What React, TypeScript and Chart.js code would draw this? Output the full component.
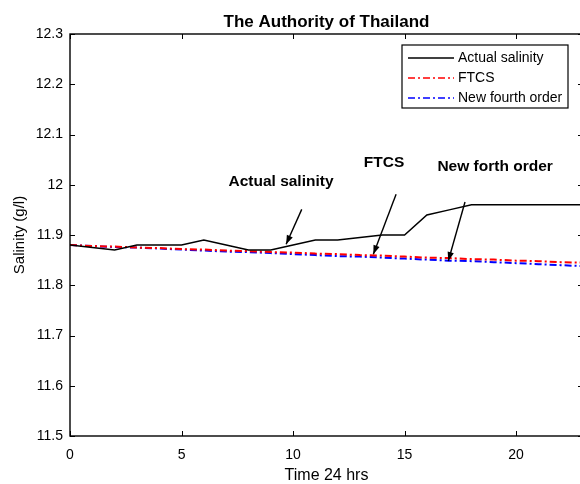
import React, { useEffect, useRef } from "react";
import { Chart, registerables } from "chart.js";

Chart.register(...registerables);

const hours = [0, 1, 2, 3, 4, 5, 6, 7, 8, 9, 10, 11, 12, 13, 14, 15, 16, 17, 18, 19, 20, 21, 22, 23];
const actualSalinity = [11.88, 11.875, 11.87, 11.88, 11.88, 11.88, 11.89, 11.88, 11.87, 11.87, 11.88, 11.89, 11.89, 11.895, 11.9, 11.9, 11.94, 11.95, 11.96, 11.96, 11.96, 11.96, 11.96, 11.96];
const ftcs = [11.88, 11.878, 11.877, 11.875, 11.874, 11.872, 11.871, 11.869, 11.868, 11.866, 11.865, 11.863, 11.862, 11.86, 11.859, 11.857, 11.855, 11.854, 11.852, 11.851, 11.849, 11.848, 11.846, 11.845];
const newFourthOrder = [11.88, 11.878, 11.876, 11.875, 11.873, 11.871, 11.869, 11.867, 11.866, 11.864, 11.862, 11.86, 11.858, 11.857, 11.855, 11.853, 11.851, 11.849, 11.848, 11.846, 11.844, 11.842, 11.84, 11.838];
const seriesNames = ["Actual salinity", "FTCS", "New fourth order"];
const xTickValues = [0, 5, 10, 15, 20];
const yTickValues = [11.5, 11.6, 11.7, 11.8, 11.9, 12.0, 12.1, 12.2, 12.3];
const chartTitle = "The Authority of Thailand";
const xTitle = "Time 24 hrs";
const yTitle = "Salinity (g/l)";

// annotation labels and arrows, in data coordinates (hours, g/l)
const annotations = [
  { text: "Actual salinity", x: 9.46, y: 12.007, from: [10.39, 11.951], to: [9.69, 11.8815] },
  { text: "FTCS", x: 14.08, y: 12.043, from: [14.62, 11.981], to: [13.6, 11.8616] },
  { text: "New forth order", x: 19.06, y: 12.035, from: [17.71, 11.9656], to: [16.96, 11.8483] },
];

const FONT = "'Liberation Sans', Arial, Helvetica, sans-serif";
const DASHDOT = [7, 3, 2, 3];

const framePlugin = {
  id: "matlabFrame",
  afterDraw(chart: any) {
    const { ctx, chartArea } = chart;
    const { left, right, top, bottom } = chartArea;
    const xs = chart.scales.x;
    const ys = chart.scales.y;
    ctx.save();
    // frame
    ctx.strokeStyle = "#000";
    ctx.lineWidth = 1.4;
    ctx.setLineDash([]);
    ctx.strokeRect(left, top, right - left, bottom - top);
    // inside ticks
    ctx.lineWidth = 1;
    ctx.beginPath();
    xTickValues.forEach((v) => {
      const px = Math.round(xs.getPixelForValue(v)) + 0.5;
      ctx.moveTo(px, bottom);
      ctx.lineTo(px, bottom - 5);
      ctx.moveTo(px, top);
      ctx.lineTo(px, top + 5);
    });
    yTickValues.forEach((v) => {
      const py = Math.round(ys.getPixelForValue(v)) + 0.5;
      ctx.moveTo(left, py);
      ctx.lineTo(left + 5, py);
      ctx.moveTo(right, py);
      ctx.lineTo(right - 5, py);
    });
    ctx.stroke();

    // title
    ctx.fillStyle = "#000";
    ctx.font = `bold 17px ${FONT}`;
    ctx.textAlign = "center";
    ctx.textBaseline = "middle";
    ctx.fillText(chartTitle, (left + right) / 2, top - 12);

    // annotations
    ctx.font = `bold 15.5px ${FONT}`;
    annotations.forEach((a) => {
      ctx.fillText(a.text, xs.getPixelForValue(a.x), ys.getPixelForValue(a.y));
      const x1 = xs.getPixelForValue(a.from[0]);
      const y1 = ys.getPixelForValue(a.from[1]);
      const x2 = xs.getPixelForValue(a.to[0]);
      const y2 = ys.getPixelForValue(a.to[1]);
      ctx.lineWidth = 1.4;
      ctx.beginPath();
      ctx.moveTo(x1, y1);
      ctx.lineTo(x2, y2);
      ctx.stroke();
      const ang = Math.atan2(y2 - y1, x2 - x1);
      const L = 9;
      const W = 3.2;
      ctx.beginPath();
      ctx.moveTo(x2, y2);
      ctx.lineTo(x2 - L * Math.cos(ang) + W * Math.sin(ang), y2 - L * Math.sin(ang) - W * Math.cos(ang));
      ctx.lineTo(x2 - L * Math.cos(ang) - W * Math.sin(ang), y2 - L * Math.sin(ang) + W * Math.cos(ang));
      ctx.closePath();
      ctx.fill();
    });

    // legend
    const boxRight = right - 15;
    const boxLeft = boxRight - 166;
    const boxTop = top + 11;
    const boxH = 63;
    ctx.fillStyle = "#fff";
    ctx.fillRect(boxLeft, boxTop, boxRight - boxLeft, boxH);
    ctx.strokeStyle = "#000";
    ctx.lineWidth = 1.2;
    ctx.setLineDash([]);
    ctx.strokeRect(boxLeft, boxTop, boxRight - boxLeft, boxH);
    ctx.font = `14px ${FONT}`;
    ctx.textAlign = "left";
    ctx.textBaseline = "middle";
    chart.data.datasets.forEach((ds: any, i: number) => {
      const yy = boxTop + 13 + i * 20;
      ctx.strokeStyle = ds.borderColor;
      ctx.lineWidth = 1.4;
      ctx.setLineDash(ds.borderDash || []);
      ctx.beginPath();
      ctx.moveTo(boxLeft + 6, yy);
      ctx.lineTo(boxLeft + 52, yy);
      ctx.stroke();
      ctx.setLineDash([]);
      ctx.fillStyle = "#000";
      ctx.fillText(ds.label, boxLeft + 56, yy);
    });
    ctx.restore();
  },
};

export default function App() {
  const ref = useRef<HTMLCanvasElement | null>(null);

  useEffect(() => {
    if (!ref.current) return;
    const toPts = (arr: number[]) => hours.map((h, i) => ({ x: h, y: arr[i] }));
    const chart = new Chart(ref.current, {
      type: "line",
      data: {
        datasets: [
          {
            label: seriesNames[0],
            data: toPts(actualSalinity),
            borderColor: "#000000",
            borderWidth: 1.5,
            pointRadius: 0,
            tension: 0,
          },
          {
            label: seriesNames[1],
            data: toPts(ftcs),
            borderColor: "#ff0000",
            borderWidth: 2,
            borderDash: DASHDOT,
            pointRadius: 0,
            tension: 0,
          },
          {
            label: seriesNames[2],
            data: toPts(newFourthOrder),
            borderColor: "#0000ff",
            borderWidth: 2,
            borderDash: DASHDOT,
            pointRadius: 0,
            tension: 0,
          },
        ],
      },
      options: {
        animation: false,
        responsive: false,
        devicePixelRatio: 1,
        layout: { padding: { left: 0, right: 7, top: 34, bottom: 0 } },
        plugins: {
          legend: { display: false },
          title: { display: false },
          tooltip: { enabled: false },
        },
        scales: {
          x: {
            type: "linear",
            min: 0,
            max: 23,
            grid: { display: false, drawTicks: false },
            border: { display: false },
            afterBuildTicks: (scale: any) => {
              scale.ticks = xTickValues.map((v) => ({ value: v }));
            },
            afterFit: (scale: any) => {
              scale.height = 48;
            },
            ticks: {
              padding: 11,
              color: "#000",
              font: { family: FONT, size: 14 },
              maxRotation: 0,
              callback: (v: any) => String(v),
            },
            title: {
              display: true,
              text: xTitle,
              color: "#000",
              font: { family: FONT, size: 16, lineHeight: 1.0 },
              padding: { top: 0, bottom: 0 },
            },
          },
          y: {
            type: "linear",
            min: 11.5,
            max: 12.3,
            grid: { display: false, drawTicks: false },
            border: { display: false },
            afterBuildTicks: (scale: any) => {
              scale.ticks = yTickValues.map((v) => ({ value: v }));
            },
            afterFit: (scale: any) => {
              scale.width = 70;
            },
            ticks: {
              padding: 7,
              color: "#000",
              font: { family: FONT, size: 14 },
              callback: (v: any) => String(+Number(v).toFixed(1)),
            },
            title: {
              display: true,
              text: yTitle,
              color: "#000",
              font: { family: FONT, size: 15 },
              padding: { top: 11, bottom: 0 },
            },
          },
        },
      },
      plugins: [framePlugin],
    });
    return () => chart.destroy();
  }, []);

  return (
    <div
      style={{
        position: "fixed",
        left: 0,
        top: 0,
        width: 580,
        height: 484,
        overflow: "hidden",
        background: "#fff",
      }}
    >
      <canvas ref={ref} width={590} height={484} style={{ width: 590, height: 484, display: "block" }} />
    </div>
  );
}
